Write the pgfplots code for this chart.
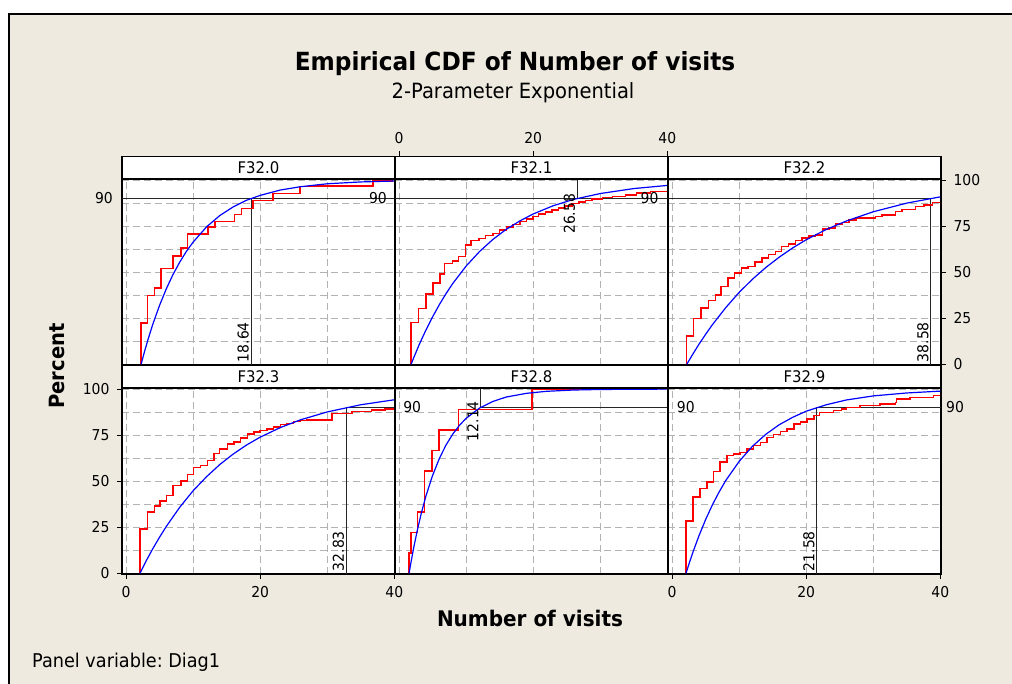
\documentclass[border=0pt]{standalone}
\usepackage{fontspec}
\setmainfont{DejaVu Sans}[FakeStretch=0.93]
\usepackage{pgfplots}
\pgfplotsset{compat=1.18}
\definecolor{bg}{RGB}{238,234,224}
\definecolor{gridc}{RGB}{178,178,178}
\newcommand\fs[1]{\fontsize{#1}{#1}\selectfont}
\frenchspacing
\tikzset{
  rlab/.style={rotate=90, font=\fs{15}, inner sep=2pt},
  nlab/.style={font=\fs{15}, inner sep=0pt},
}
\pgfplotsset{
  panel/.style={
    scale only axis, width=273pt, height=186pt, anchor=south west,
    xmin=-0.6, xmax=40.1, ymin=-0.4, ymax=100.6,
    axis background/.style={fill=white},
    xtick={0,20,40}, minor xtick={10,30},
    ytick={0,25,50,75,100}, minor ytick={12.5,37.5,62.5,87.5},
    grid=both,
    major grid style={gridc, line width=1pt, dash pattern=on 7pt off 4pt},
    minor grid style={gridc, line width=1pt, dash pattern=on 7pt off 4pt},
    minor tick length=0pt, major tick length=5pt, tick align=outside,
    xticklabels={}, yticklabels={},
    xtick style={draw=none}, ytick style={draw=none},
    axis line style={line width=1.1pt},
    tick label style={font=\fs{15}},
    /pgf/number format/assume math mode=true,
    clip mode=individual,
  },
  xlabL/.style={xtick pos=lower, xticklabel pos=lower, xticklabels={0,20,40}, xtick style={draw=black, line width=1pt}, xticklabel style={yshift=-4pt}},
  ylabL/.style={ytick pos=lower, yticklabel pos=lower, yticklabels={0,25,50,75,100}, ytick style={draw=black, line width=1pt}, yticklabel style={xshift=-4pt}},
  ylabU/.style={ytick pos=upper, yticklabel pos=upper, yticklabels={0,25,50,75,100}, ytick style={draw=black, line width=1pt}, yticklabel style={xshift=4pt}},
  ecdf/.style={red, line width=1.5pt, const plot, mark=none},
  fit/.style={blue, line width=1.2pt, mark=none},
  refl/.style={black!85, line width=1.1pt, mark=none},
}
\begin{document}
\begin{tikzpicture}[x=1pt,y=1pt]
\path[use as bounding box] (0,0) rectangle (1012,684);
\fill[white] (0,0) rectangle (1012,684);
\fill[bg] (9,0) rectangle (1012,670);
\draw[black, line width=2pt] (9,0) -- (9,670) -- (1012,670);

\node[font=\fs{25}\bfseries, anchor=base] at (515,613) {Empirical CDF of Number of visits};
\node[font=\fs{21}, anchor=base] at (513,585) {2-Parameter Exponential};
\node[font=\fs{21.5}\bfseries, anchor=base] at (530,57) {Number of visits};
\node[font=\fs{21}\bfseries, anchor=base, rotate=90] at (64,318) {Percent};
\node[font=\fs{19}, anchor=base west, inner sep=0pt] at (32,16) {Panel variable: Diag1};

% ---------- F32.0 ----------
\begin{axis}[panel, at={(122pt,319pt)}]
\addplot[refl] coordinates {(18.64,-0.4) (18.64,90)};
\addplot[refl] coordinates {(-0.6,90) (40.1,90)};
\addplot[ecdf] coordinates {(2.24,0) (2.24,22.5) (3.23,37.3) (4.23,41.4) (5.22,51.9) (6.97,58.9) (8.2,63.1) (9.2,70.8) (12.2,74.4) (13.3,77.5) (16.2,81.4) (17.2,84.7) (18.9,88.8) (21.9,92.8) (25.9,96.4) (27.6,96.9) (36.8,99.5) (39.8,99.5)};
\addplot[fit] coordinates {(2.25,0) (2.75,6.8) (3.25,13.1) (4,21.8) (5,32.0) (6,40.9) (7,48.7) (8,55.4) (9,61.3) (10,66.3) (12,74.6) (14,80.8) (16,85.5) (18,89.1) (20,91.7) (23,94.6) (26,96.4) (30,98.0) (35,99.0) (40,99.5)};
\node[rlab, anchor=south west] at (axis cs:18.64,0) {18.64};
\node[nlab, anchor=east] at (axis cs:38.9,90) {90};
\node[nlab, anchor=east, xshift=-9pt] at (axis cs:-0.6,90) {90};
\end{axis}

% ---------- F32.1 ----------
\begin{axis}[panel, at={(395pt,319pt)}]
\addplot[refl] coordinates {(26.58,100.6) (26.58,90)};
\addplot[refl] coordinates {(-0.6,90) (40.1,90)};
\addplot[ecdf] coordinates {(1.8,0) (1.8,22.6) (2.9,30.4) (4.03,38.2) (5.1,44) (6.1,48.9) (6.8,54.8) (7.95,56.2) (8.9,58.4) (9.9,64.8) (10.75,67.1) (11.9,68.4) (12.9,69.8) (14,71.1) (15,72.9) (16,74.6) (17,76.0) (18,77.4) (19,78.8) (20,80.2) (20.8,81.5) (21.8,82.6) (22.8,83.8) (23.8,84.8) (24.8,86.0) (25.8,87.2) (26.8,88.0) (27.8,88.8) (28.8,89.6) (30.3,90.6) (31.8,91.2) (33.8,91.9) (35.4,93.0) (37.5,93.7) (40,93.7)};
\addplot[fit] coordinates {(1.8,0) (2.2,3.6) (3,10.6) (4,18.5) (5,25.7) (6,32.3) (7,38.3) (8,43.8) (10,53.3) (12,61.2) (14,67.8) (16,73.3) (18,77.8) (20,81.6) (23,86.1) (26,89.5) (30,92.7) (35,95.4) (40,97.1)};
\node[rlab, anchor=south east] at (axis cs:26.58,93.7) {26.58};
\node[nlab, anchor=east] at (axis cs:38.7,90) {90};
\end{axis}

% ---------- F32.2 ----------
\begin{axis}[panel, at={(668pt,319pt)}, ylabU]
\addplot[refl] coordinates {(-0.6,90) (38.58,90) (38.58,-0.4)};
\addplot[ecdf] coordinates {(2.14,0) (2.14,15.3) (3.23,24.9) (4.33,30.6) (5.47,34.6) (6.47,37.5) (7.31,42.3) (8.36,46.8) (9.3,49.5) (10.35,52.2) (11.3,53.2) (12.4,55.5) (13.4,57.7) (14.4,59.5) (15.4,61.3) (16.3,64.0) (17.4,65.4) (18.4,67.2) (19.4,68.5) (20.4,69.7) (21.4,70.3) (22.4,73.4) (23.4,73.9) (24.4,76.2) (25.4,76.9) (26.4,78.4) (27.4,79.3) (30.3,80.2) (31.3,81.1) (33.3,82.9) (34.3,84.1) (36.3,85.6) (37.6,86.5) (38.8,87.7) (40,87.7)};
\addplot[fit] coordinates {(2.2,0) (3,4.9) (4,10.8) (5,16.2) (6,21.4) (8,30.7) (10,39.0) (12,46.2) (14,52.6) (16,58.2) (18,63.2) (20,67.6) (23,73.2) (26,77.8) (30,82.8) (35,87.5) (40,90.9)};
\node[rlab, anchor=south west] at (axis cs:38.58,0) {38.58};
\end{axis}

% ---------- F32.3 ----------
\begin{axis}[panel, at={(122pt,110pt)}, xlabL, ylabL]
\addplot[refl] coordinates {(32.83,-0.4) (32.83,90) (40.1,90)};
\addplot[ecdf] coordinates {(2.08,0) (2.08,23.9) (3.22,33.2) (4.21,36.5) (5.05,39.3) (6.04,42.2) (7.03,47.6) (8.17,50.1) (9.16,53.5) (10.05,57.3) (11.14,58.6) (12.13,61.3) (13.12,64.9) (13.96,67.6) (15.1,70.3) (16.1,71.2) (17.1,73.5) (18.1,75.7) (19.1,76.6) (20.0,77.5) (21.0,78.4) (22.0,79.3) (23.0,80.7) (24.0,81.4) (25.0,82.5) (26.0,82.9) (27.0,83.2) (30.7,86.8) (33.7,87.9) (36.6,88.6) (38.6,89.2) (39.9,89.7)};
\addplot[fit] coordinates {(2.08,0) (3,6.7) (4,13.4) (5,19.6) (6,25.4) (8,35.8) (10,44.8) (12,52.4) (14,59.1) (16,64.8) (18,69.7) (20,73.9) (23,79.1) (26,83.3) (30,87.6) (35,91.5) (40,94.2)};
\node[rlab, anchor=south west] at (axis cs:32.83,0) {32.83};
\end{axis}

% ---------- F32.8 ----------
\begin{axis}[panel, at={(395pt,110pt)}]
\addplot[refl] coordinates {(12.14,100.6) (12.14,90) (40.1,90)};
\addplot[ecdf] coordinates {(1.5,0) (1.5,11.1) (1.76,22.2) (2.76,33.3) (3.77,55.6) (4.92,66.7) (5.93,77.8) (8.89,88.9) (19.85,100) (28.6,100)};
\addplot[fit] coordinates {(1.5,0) (1.8,6.3) (2.2,14.1) (2.7,22.9) (3.3,32.3) (4,41.8) (5,53.1) (6,62.2) (7,69.6) (8,75.5) (9,80.3) (10,84.1) (12,89.7) (14,93.3) (16,95.7) (19,97.7) (22,98.8) (26,99.5) (30,99.8) (35,99.9) (40,100)};
\node[rlab, anchor=south east] at (axis cs:12.14,94.6) {12.14};
\node[nlab, anchor=west] at (axis cs:0.6,90) {90};
\end{axis}

% ---------- F32.9 ----------
\begin{axis}[panel, at={(668pt,110pt)}, xlabL]
\addplot[refl] coordinates {(21.58,-0.4) (21.58,90) (40.1,90)};
\addplot[ecdf] coordinates {(2.09,0) (2.09,28.5) (3.09,41.4) (4.19,45.9) (5.19,49.5) (6.18,55.3) (7.18,60.3) (8.18,63.9) (9.18,64.8) (10.17,65.7) (11.17,67.5) (12.17,69.3) (13.17,71.1) (14.16,73.8) (15.16,75.3) (16.16,76.9) (17.16,78.4) (18.15,81.1) (19.15,82.0) (20.15,83.8) (21.15,85.6) (21.95,87.4) (24.1,88.3) (25.3,89.2) (26.0,90.1) (28.0,91.0) (31.0,91.9) (33.3,92.8) (33.5,94.6) (35.5,95.5) (39.0,96.4) (40,96.4)};
\addplot[fit] coordinates {(2.09,0) (2.6,5.9) (3.2,12.3) (4,20.2) (5,29.1) (6,37.0) (7,44.0) (8,50.3) (10,60.7) (12,69.0) (14,75.5) (16,80.7) (18,84.7) (20,88.0) (23,91.5) (26,94.1) (30,96.3) (35,97.9) (40,98.9)};
\node[rlab, anchor=south west] at (axis cs:21.58,0) {21.58};
\node[nlab, anchor=west] at (axis cs:0.7,90) {90};
\node[nlab, anchor=west, xshift=5pt] at (axis cs:40.1,90) {90};
\end{axis}

% ---------- headers ----------
\foreach \x/\y/\t in {122/505/F32.0, 395/505/F32.1, 668/505/F32.2, 122/296/F32.3, 395/296/F32.8, 668/296/F32.9} {
  \draw[fill=white, line width=1.1pt] (\x,\y) rectangle ++(273,22.5);
  \node[font=\fs{16}] at (\x+136.5,\y+11.25) {\t};
}

% ---------- top scale above F32.1 header ----------
\begin{axis}[scale only axis, width=273pt, height=208.5pt, at={(395pt,319pt)}, anchor=south west,
  xmin=-0.6, xmax=40.1, ymin=0, ymax=1,
  axis x line*=top, axis y line=none, x axis line style={draw=none, -},
  xtick={0,20,40}, ytick=\empty, tick align=outside, major tick length=5pt,
  xtick style={black, line width=1pt},
  xticklabel style={font=\fs{15}, yshift=4pt},
  /pgf/number format/assume math mode=true]
\end{axis}
\end{tikzpicture}
\end{document}
